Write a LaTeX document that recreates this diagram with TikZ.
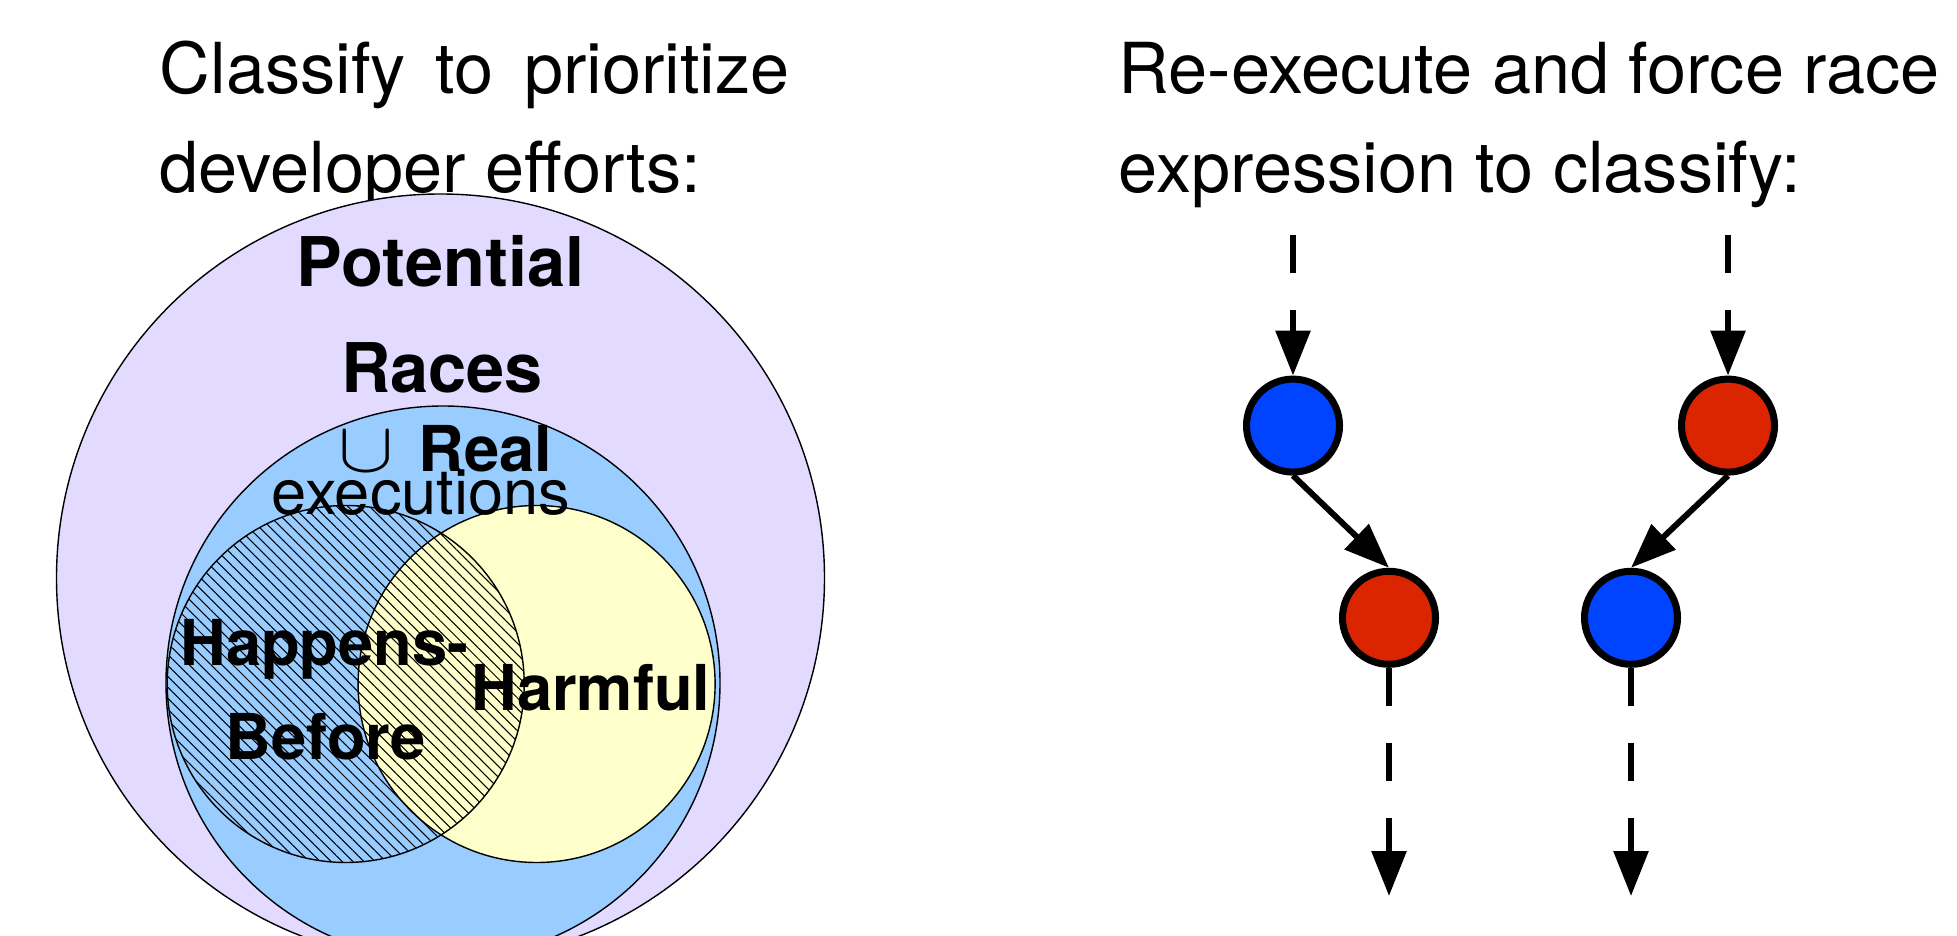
\documentclass[tikz,border=0pt]{standalone}
\usepackage{graphicx}
\usepackage{fontspec}
\setmainfont{TeX Gyre Heros}
\usetikzlibrary{arrows.meta,patterns.meta}

\definecolor{lavender}{RGB}{227,218,255}
\definecolor{skyblue}{RGB}{153,204,255}
\definecolor{paleyellow}{RGB}{255,255,204}
\definecolor{threadblue}{RGB}{0,68,255}
\definecolor{threadred}{RGB}{219,37,0}

\tikzset{
  title/.style={anchor=base west, inner sep=0pt, font=\fontsize{20}{24}\selectfont},
  setlabel/.style={anchor=base, inner sep=0pt, font=\fontsize{18}{20}\selectfont\bfseries},
  biglabel/.style={setlabel, font=\fontsize{19.5}{22}\selectfont\bfseries},
  hatch/.style={pattern={Lines[angle=-45, distance=2.2pt, line width=0.3pt]}},
  access/.style={circle, draw, line width=2pt, minimum size=0.93cm, inner sep=0pt},
  order/.style={line width=1.7pt, -{Triangle[length=0.45cm, width=0.34cm]}},
  gap/.style={dash pattern=on 0.38cm off 0.37cm},
}

\begin{document}
\begin{tikzpicture}
      \clip (0, 0) rectangle (19.57, 9.35);

      \node[title] (classA) at (1.59, 8.41) {\makebox[6.3cm][s]{Classify to prioritize}};
      \node[title] (classB) at (1.59, 7.42) {developer efforts:};
      \node[title] (forceA) at (11.18, 8.41) {Re-execute and force race};
      \node[title] (forceB) at (11.18, 7.42) {expression to classify:};

      \draw[fill=lavender] (4.405, 3.57) circle (3.84);
      \draw[fill=skyblue] (4.43, 2.52) circle (2.77);
      \draw[fill=paleyellow] (5.366, 2.51) circle (1.785);
      \draw[hatch] (3.457, 2.51) circle (1.785);

      \node[biglabel] (potential) at (4.405, 6.48) {Potential};
      \node[biglabel] (races) at (4.42, 5.42) {Races};
      \node[setlabel] (real) at (4.455, 4.63) {\scalebox{1.37}[1.17]{$\cup$}\hspace{7pt}Real};
      \node[setlabel, font=\fontsize{18}{20}\selectfont] (execs) at (4.21, 4.20) {executions};
      \node[setlabel] (happens) at (3.245, 2.70) {Happens-};
      \node[setlabel] (before) at (3.26, 1.76) {Before};
      \node[setlabel] (harmful) at (5.91, 2.24) {Harmful};

      \node[access, fill=threadblue] (blueA) at (12.93, 5.094) {};
      \node[access, fill=threadred] (redA) at (13.89, 3.172) {};
      \node[access, fill=threadred] (redB) at (17.28, 5.094) {};
      \node[access, fill=threadblue] (blueB) at (16.31, 3.172) {};

      \coordinate (inA) at (12.93, 7.0);
      \coordinate (outA) at (13.89, 0.39);
      \coordinate (inB) at (17.28, 7.0);
      \coordinate (outB) at (16.31, 0.39);

      \draw[order, gap] (inA) -- (blueA);
      \draw[order] (blueA.south) -- (redA.north);
      \draw[order, gap] (redA) -- (outA);
      \draw[order, gap] (inB) -- (redB);
      \draw[order] (redB.south) -- (blueB.north);
      \draw[order, gap] (blueB) -- (outB);
    \end{tikzpicture}
\end{document}
